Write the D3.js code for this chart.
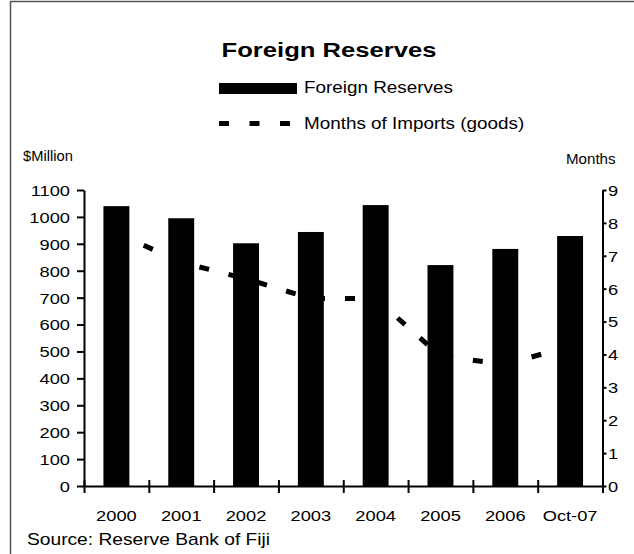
<!DOCTYPE html>
<html>
<head>
<meta charset="utf-8">
<script src="https://cdn.jsdelivr.net/npm/d3@7"></script>
<style>
  body { margin: 0; background: #fff; }
  svg { display: block; }
  text { font-family: "Liberation Sans", Arial, sans-serif; fill: #000; }
</style>
</head>
<body>
<svg id="chart" width="634" height="554"></svg>
<script>
// Fiji foreign reserves ($ million) and import cover (months of goods imports)
const categories = ["2000", "2001", "2002", "2003", "2004", "2005", "2006", "Oct-07"];
const reserves = [1040, 995, 902, 944, 1044, 821, 881, 929];
const monthsOfImports = [7.7, 6.8, 6.3, 5.7, 5.7, 3.95, 3.7, 4.25];
const leftTicks = [0, 100, 200, 300, 400, 500, 600, 700, 800, 900, 1000, 1100];
const rightTicks = [0, 1, 2, 3, 4, 5, 6, 7, 8, 9];

const svg = d3.select("#chart");
const plot = { left: 84, right: 602.5, top: 190, bottom: 486 };
const SX = 1.18; // glyphs are drawn slightly wide

// frame
svg.append("path")
  .attr("d", "M10.5,560V1.5H640")
  .attr("fill", "none").attr("stroke", "#555").attr("stroke-width", 1.5);

// scales
const x = d3.scaleBand().domain(categories)
  .range([plot.left, plot.right]).paddingInner(0.6).paddingOuter(0.3);
const xEdge = d3.scaleLinear().domain([0, categories.length]).range([plot.left, plot.right]);
const yL = d3.scaleLinear().domain([0, 1100]).range([plot.bottom, plot.top]);
const yR = d3.scaleLinear().domain([0, 9]).range([plot.bottom, plot.top]);

// months-of-imports line (sits behind the bars)
const line = d3.line()
  .x((d, i) => x(categories[i]) + x.bandwidth() / 2)
  .y(d => yR(d));
svg.append("path")
  .datum(monthsOfImports)
  .attr("d", line)
  .attr("fill", "none").attr("stroke", "#000")
  .attr("stroke-width", 5).attr("stroke-dasharray", "10,20")
  .attr("stroke-linecap", "butt").attr("stroke-linejoin", "miter");

// reserve bars
svg.append("g").selectAll("rect")
  .data(reserves)
  .join("rect")
  .attr("x", (d, i) => x(categories[i]))
  .attr("width", x.bandwidth())
  .attr("y", d => yL(d))
  .attr("height", d => yL(0) - yL(d))
  .attr("fill", "#000");

function styleAxis(g) {
  g.select(".domain").attr("stroke", "#000").attr("stroke-width", 2);
  g.selectAll(".tick line").attr("stroke", "#000").attr("stroke-width", 2);
}

// left axis ($ million)
const gL = svg.append("g").attr("transform", `translate(${plot.left},0)`)
  .call(d3.axisLeft(yL).tickValues(leftTicks).tickFormat(d3.format("d"))
    .tickSizeInner(7).tickSizeOuter(0));
styleAxis(gL);
gL.selectAll(".tick text")
  .attr("x", 0).attr("dy", "0.35em")
  .attr("font-size", 15.5).attr("font-family", null)
  .attr("transform", `translate(-14,0) scale(${SX},1)`);

// right axis (months)
const gR = svg.append("g").attr("transform", `translate(${plot.right},0)`)
  .call(d3.axisRight(yR).tickValues(rightTicks).tickFormat(d3.format("d"))
    .tickSizeInner(4).tickSizeOuter(0));
styleAxis(gR);
gR.selectAll(".tick text")
  .attr("x", 0).attr("dy", "0.35em")
  .attr("font-size", 15.5).attr("font-family", null)
  .attr("transform", `translate(5.5,0) scale(${SX},1)`);

// bottom axis: cross ticks on category boundaries
const gB = svg.append("g").attr("transform", `translate(0,${plot.bottom})`)
  .call(d3.axisBottom(xEdge).tickValues(d3.range(categories.length + 1))
    .tickSize(7).tickSizeOuter(0).tickFormat(""));
styleAxis(gB);
gB.selectAll(".tick line").attr("y1", -6);

// category labels
const gC = svg.append("g").attr("transform", `translate(0,${plot.bottom})`)
  .call(d3.axisBottom(x).tickSize(0));
gC.select(".domain").remove();
gC.selectAll(".tick text")
  .attr("y", 0).attr("dy", 0)
  .attr("font-size", 15.5).attr("font-family", null)
  .attr("transform", `translate(0,35) scale(${SX},1)`);

// title
svg.append("text")
  .attr("transform", `translate(329,57) scale(1.22,1)`)
  .attr("text-anchor", "middle")
  .attr("font-size", 21).attr("font-weight", "bold")
  .text("Foreign Reserves");

// legend
svg.append("rect").attr("x", 219).attr("y", 83).attr("width", 78).attr("height", 11).attr("fill", "#000");
svg.append("text").attr("transform", `translate(304,93) scale(${SX},1)`)
  .attr("font-size", 16).text("Foreign Reserves");
svg.append("line")
  .attr("x1", 219).attr("x2", 291).attr("y1", 123.5).attr("y2", 123.5)
  .attr("stroke", "#000").attr("stroke-width", 5).attr("stroke-dasharray", "10,20.5");
svg.append("text").attr("transform", `translate(304,129) scale(${SX},1)`)
  .attr("font-size", 16).text("Months of Imports (goods)");

// axis titles
svg.append("text").attr("transform", `translate(23,161) scale(1.05,1)`)
  .attr("font-size", 14).text("$Million");
svg.append("text").attr("transform", `translate(566,164) scale(1.08,1)`)
  .attr("font-size", 14).text("Months");

// source note
svg.append("text").attr("transform", `translate(27,545) scale(1.2,1)`)
  .attr("font-size", 16).text("Source: Reserve Bank of Fiji");
</script>
</body>
</html>
